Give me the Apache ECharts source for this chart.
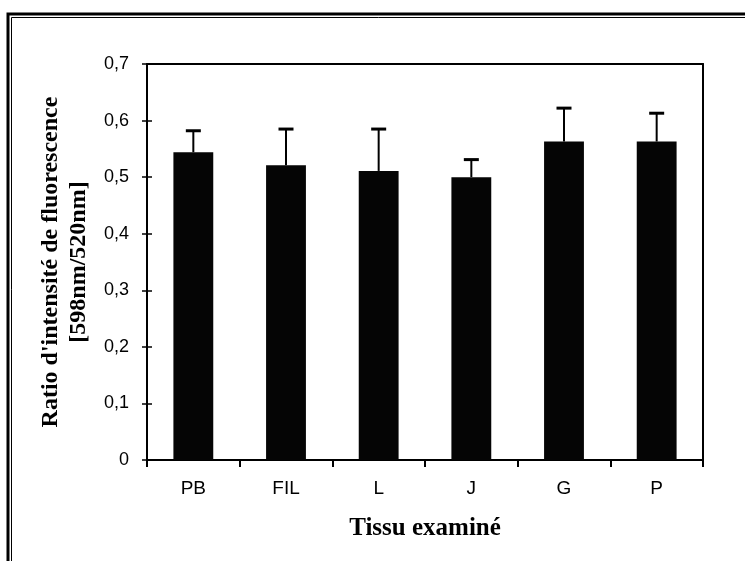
<!DOCTYPE html>
<html><head><meta charset="utf-8">
<script src="https://cdn.jsdelivr.net/npm/echarts@6/dist/echarts.min.js"></script>
<style>html,body{margin:0;padding:0;background:#fff}#c{width:745px;height:561px}</style>
</head><body><div id="c"></div>
<script>
const categories = ['PB', 'FIL', 'L', 'J', 'G', 'P'];
const means = [0.544, 0.521, 0.511, 0.500, 0.563, 0.563];
const errTops = [0.582, 0.585, 0.585, 0.531, 0.622, 0.613];
const yTicks = [0, 0.1, 0.2, 0.3, 0.4, 0.5, 0.6, 0.7];

const chart = echarts.init(document.getElementById('c'), null, {renderer: 'canvas'});
const serif = '"Liberation Serif", "Times New Roman", serif';
const sans = '"Liberation Sans", Arial, sans-serif';

const errData = categories.map((c, i) => [i, means[i], errTops[i]]);

chart.setOption({
  backgroundColor: '#fff',
  animation: false,
  graphic: [
    {type: 'rect', shape: {x: 8, y: 14, width: 800, height: 700}, style: {fill: 'none', stroke: '#000', lineWidth: 3}, silent: true},
    {type: 'rect', shape: {x: 11.5, y: 17.5, width: 800, height: 700}, style: {fill: 'none', stroke: '#000', lineWidth: 1}, silent: true}
  ],
  grid: {left: 147, right: 42, top: 64, bottom: 101, containLabel: false},
  xAxis: [{
    type: 'category', data: categories,
    name: 'Tissu examiné', nameLocation: 'middle', nameGap: 56,
    nameTextStyle: {fontFamily: serif, fontWeight: 'bold', fontSize: 25, color: '#000'},
    axisLine: {lineStyle: {color: '#000', width: 2}},
    axisTick: {show: true, length: 7, lineStyle: {color: '#000', width: 2}},
    axisLabel: {fontFamily: sans, fontSize: 19, color: '#000', margin: 19}
  }, {
    type: 'category', data: categories, position: 'top',
    axisLine: {show: true, onZero: false, lineStyle: {color: '#000', width: 2}},
    axisTick: {show: false}, axisLabel: {show: false}
  }],
  yAxis: [{
    type: 'value', min: 0, max: 0.7, interval: 0.1,
    name: "Ratio d'intensité de fluorescence\n[598nm/520nm]", nameLocation: 'middle', nameGap: 53,
    nameTextStyle: {fontFamily: serif, fontWeight: 'bold', fontSize: 24, color: '#000', lineHeight: 28},
    axisLine: {show: true, lineStyle: {color: '#000', width: 2}},
    axisTick: {show: true, length: 5, lineStyle: {color: '#000', width: 1.5}},
    splitLine: {show: false},
    axisLabel: {fontFamily: sans, fontSize: 18, color: '#000', margin: 18,
      formatter: v => yTicks.includes(Math.round(v * 10) / 10) ? (Math.round(v * 10) / 10).toString().replace('.', ',') : ''}
  }, {
    type: 'value', min: 0, max: 0.7, interval: 0.1, position: 'left',
    axisLine: {show: false},
    axisTick: {show: true, inside: true, length: 5, lineStyle: {color: '#000', width: 1.5}},
    axisLabel: {show: false}, splitLine: {show: false}
  }, {
    type: 'value', min: 0, max: 0.7, position: 'right',
    axisLine: {show: true, onZero: false, lineStyle: {color: '#000', width: 2}},
    axisTick: {show: false}, axisLabel: {show: false}, splitLine: {show: false}
  }],
  series: [{
    type: 'bar', data: means, barWidth: '43%',
    itemStyle: {color: '#050505'}
  }, {
    type: 'custom', data: errData, z: 5,
    renderItem: function (params, api) {
      const i = api.value(0);
      const base = api.coord([i, api.value(1)]);
      const top = api.coord([i, api.value(2)]);
      const hw = 7.5;
      return {type: 'group', children: [
        {type: 'line', shape: {x1: base[0], y1: base[1], x2: top[0], y2: top[1]}, style: {stroke: '#000', lineWidth: 2}},
        {type: 'line', shape: {x1: top[0] - hw, y1: top[1], x2: top[0] + hw, y2: top[1]}, style: {stroke: '#000', lineWidth: 3}}
      ]};
    }
  }, {
    type: 'line', data: [], xAxisIndex: 0, yAxisIndex: 1
  }, {
    type: 'line', data: [], xAxisIndex: 1, yAxisIndex: 2
  }]
});
</script></body></html>
